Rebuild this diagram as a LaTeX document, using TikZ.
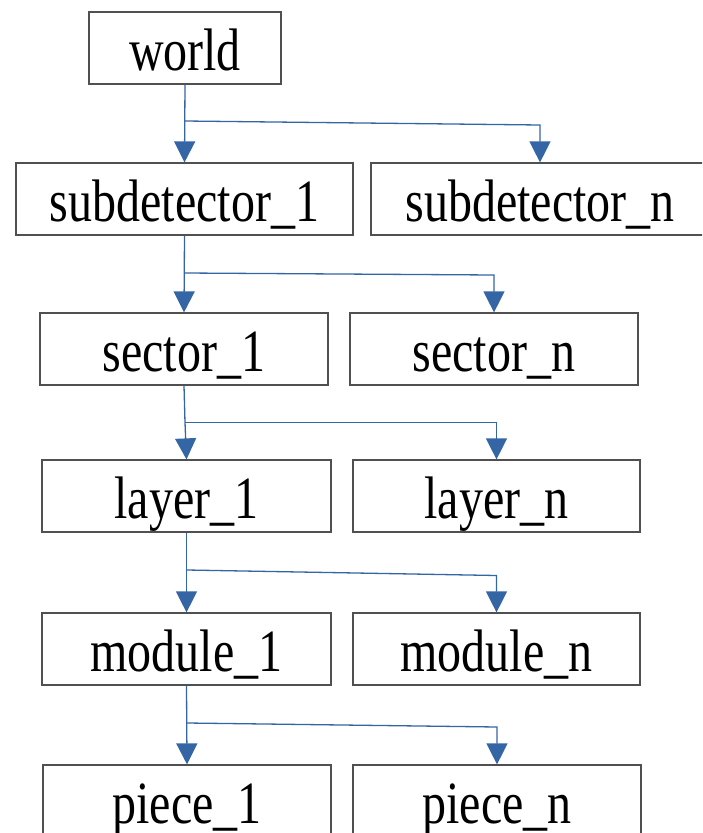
\documentclass[tikz,border=0pt]{standalone}
\usepackage{fontspec}
\setmainfont{Liberation Serif}[FakeStretch=0.8]
\usetikzlibrary{arrows.meta}
\definecolor{linkblue}{HTML}{3465A4}
\definecolor{boxgray}{HTML}{505050}

\begin{document}
\begin{tikzpicture}[x=1pt, y=-1pt,
		every node/.style={draw=boxgray, line width=1.2pt, inner sep=0pt,
			minimum height=72pt, text height=44pt, text depth=0pt,
			font=\fontsize{60}{72}\selectfont},
		link/.style={draw=linkblue, line width=1.3pt, -{Triangle[width=21pt, length=21pt]}},
		branch/.style={draw=linkblue, line width=1.3pt}
	]
	\useasboundingbox (0,0) rectangle (702,833);
	\clip (0,0) rectangle (702,833);
	\node[minimum width=192pt] (world) at (185,48) {world};
	\node[minimum width=337pt] (sub1) at (184.5,199) {subdetector\_1};
	\node[minimum width=338pt] (subn) at (540,199) {subdetector\_n};
	\node[minimum width=288pt] (sec1) at (184,349) {sector\_1};
	\node[minimum width=288pt] (secn) at (494,349) {sector\_n};
	\node[minimum width=289pt] (lay1) at (186.5,496) {layer\_1};
	\node[minimum width=287pt] (layn) at (496.5,496) {layer\_n};
	\node[minimum width=289pt] (mod1) at (186.5,649) {module\_1};
	\node[minimum width=287pt] (modn) at (496.5,649) {module\_n};
	\node[minimum width=288pt] (pc1) at (187,801) {piece\_1};
	\node[minimum width=288pt] (pcn) at (497,801) {piece\_n};
	% branch points
	\coordinate (j1) at (185,121);
	\coordinate (j2) at (185,273);
	\coordinate (j3) at (185,422.5);
	\coordinate (j4) at (187,570);
	\coordinate (j5) at (187,723);
	\draw[link] (world.south) -- (sub1.north);
	\draw[link] (j1) -- ([yshift=-4pt]j1 -| subn.north) -- (subn.north);
	\draw[link] (sub1.south) -- (sec1.north);
	\draw[link] (j2) -- ([yshift=-2pt]j2 -| secn.north) -- (secn.north);
	\draw[branch] (sec1.south) -- (j3);
	\draw[link] (j3) -- (lay1.north);
	\draw[link] (j3) -- (j3 -| layn.north) -- (layn.north);
	\draw[link] (lay1.south) -- (mod1.north);
	\draw[link] (j4) -- ([yshift=-5.5pt]j4 -| modn.north) -- (modn.north);
	\draw[link] (mod1.south) -- (pc1.north);
	\draw[link] (j5) -- ([yshift=-4pt]j5 -| pcn.north) -- (pcn.north);
\end{tikzpicture}
\end{document}
